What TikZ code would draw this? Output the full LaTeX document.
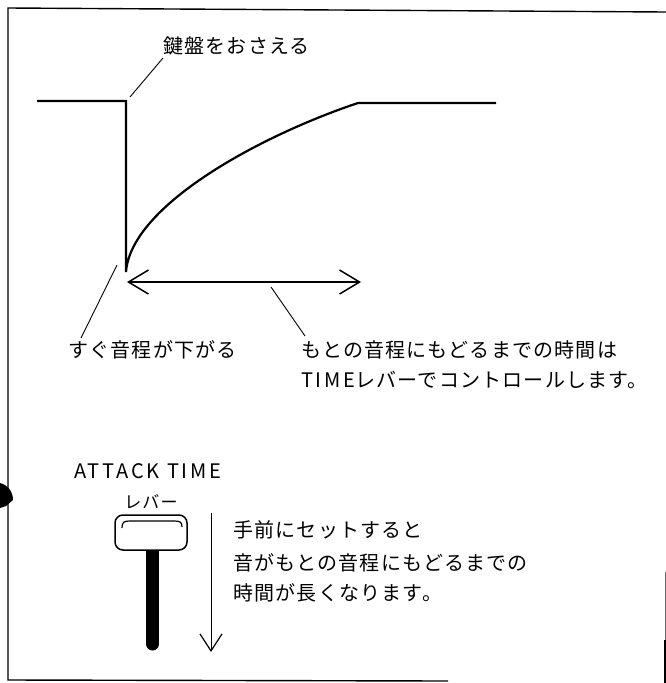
\documentclass[tikz,border=0pt]{standalone}
\usepackage{fontspec}
\setmainfont{Noto Sans CJK JP}
\newfontfamily\jpfont[LetterSpace=6]{Noto Sans CJK JP}
\newfontfamily\latfont[LetterSpace=14]{Noto Sans CJK JP}
\usetikzlibrary{arrows.meta}
\begin{document}
\begin{tikzpicture}[x=1pt,y=-1pt,
  lbl/.style={inner sep=0pt,anchor=west,font=\jpfont\fontsize{20}{20}\selectfont},
  frameline/.style={line width=1.4pt},
  wave/.style={line width=2.2pt,line join=miter},
  leader/.style={line width=0.9pt},
  barb/.style={line width=1.5pt,{Straight Barb[length=20pt,width=24pt,line width=1.5pt]}-{Straight Barb[length=20pt,width=24pt,line width=1.5pt]}}]
\useasboundingbox (0,0) rectangle (666,683);
% frame
\draw[frameline] (666,12) -- (8,8) -- (8,680) -- (448,681);
\draw[line width=1pt,black!60] (665,572) -- (665,640);
\draw[line width=1.4pt] (665,640) -- (665,683);
\fill (0,483) .. controls (8,485) and (13,492) .. (13,500) -- (6,506) -- (0,508) -- cycle;
% waveform
\coordinate (w0) at (37,101);
\coordinate (w1) at (126,101);
\coordinate (w2) at (126,272);
\coordinate (w3) at (358,103);
\coordinate (w4) at (496,103);
\draw[wave] (w0) -- (w1) -- (w2) .. controls (131,205) and (262,135) .. (w3) -- (w4);
% labels
\node[lbl] (press) at (163,46) {鍵盤をおさえる};
\coordinate (pressend) at (130,97);
\draw[leader] (163,58) -- (pressend);
% double arrow
\coordinate (aL) at (127,282);
\coordinate (aR) at (361,282);
\draw[barb] (aL) -- (aR);
\node[lbl] (drop) at (68,350) {すぐ音程が下がる};
\node[lbl] (ret1) at (301,350) {もとの音程にもどるまでの時間は};
\node[lbl] (ret2) at (301,380) {{\latfont TIME}レバーでコントロールします。};
\coordinate (dropstart) at (117,265);
\coordinate (dropend) at (81,338);
\draw[leader] (dropstart) -- (dropend);
\coordinate (retstart) at (271,287);
\coordinate (retend) at (305,336);
\draw[leader] (retstart) -- (retend);
% lever
\node[inner sep=0pt,anchor=west,font=\latfont\fontsize{20}{20}\selectfont] (attack) at (74,471) {ATTACK TIME};
\node[inner sep=0pt,font=\jpfont\fontsize{17}{17}\selectfont] (lev) at (151,502) {レバー};
\draw[line width=13pt,line cap=round] (152.5,540) -- (152.5,644);
\draw[line width=1.5pt,fill=white,rounded corners=8pt] (115,515) rectangle (187,550);
\draw[line width=1.2pt] (122,528) .. controls (122,522) and (124,521) .. (130,521) -- (174,521) .. controls (180,521) and (182,522) .. (182,527);
\coordinate (vtop) at (211,513);
\coordinate (vbot) at (211,652);
\draw[line width=1pt,-{Straight Barb[length=17pt,width=22pt,line width=1.2pt]}] (vtop) -- (vbot);
\node[lbl] (t1) at (233,530) {手前にセットすると};
\node[lbl] (t2) at (233,563) {音がもとの音程にもどるまでの};
\node[lbl] (t3) at (233,593) {時間が長くなります。};
\end{tikzpicture}
\end{document}
